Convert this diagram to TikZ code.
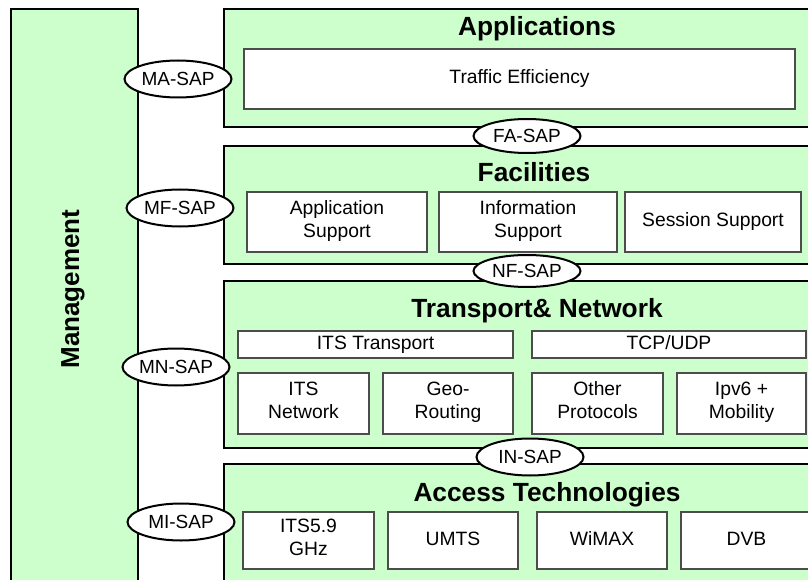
\documentclass[tikz,border=0pt]{standalone}
\usepackage{fontspec}
\setmainfont{Liberation Sans}
\usetikzlibrary{shapes.geometric,shadows}
\definecolor{lgreen}{RGB}{204,255,204}
\tikzset{
  layer/.style={draw=black, line width=2pt, fill=lgreen, rectangle, inner sep=0pt,
    general shadow={fill=black, shadow xshift=1.2pt, shadow yshift=-1.2pt}},
  ibox/.style={draw=black!70, line width=1.2pt, fill=white, rectangle, inner sep=0pt,
    align=center, font=\fontsize{19.3}{23}\selectfont,
    execute at begin node=\strut, execute at end node=\strut,
    general shadow={fill=black!55, shadow xshift=1.2pt, shadow yshift=-1.2pt}},
  title/.style={font=\fontsize{26.3}{30}\selectfont\bfseries, anchor=base, inner sep=0pt},
  sap/.style={ellipse, draw=black, line width=2pt, fill=white, inner sep=0pt,
    minimum width=107pt, minimum height=37pt, font=\fontsize{19}{22}\selectfont}
}
\begin{document}
\begin{tikzpicture}[x=1pt,y=-1pt]
\useasboundingbox (0,0) rectangle (808,580);
\clip (0,0) rectangle (808,580);
\fill[white] (0,0) rectangle (808,580);
% layers
\node[layer, minimum width=127pt, minimum height=591pt] (mgmt) at (74.5,304.5) {};
\node[layer, minimum width=606pt, minimum height=118pt] (app) at (527,68) {};
\node[layer, minimum width=606pt, minimum height=118pt] (fac) at (527,205) {};
\node[layer, minimum width=606pt, minimum height=167pt] (tn) at (527,364.5) {};
\node[layer, minimum width=606pt, minimum height=136pt] (acc) at (527,532) {};
% titles
\node[font=\fontsize{26}{30}\selectfont\bfseries, rotate=90, inner sep=0pt] (mgmtt) at (73,289) {Management};
\node[title] (appt) at (537,36) {Applications};
\node[title] (fact) at (534,182) {Facilities};
\node[title] (tnt) at (537,317) {Transport\& Network};
\node[title] (acct) at (547,501) {Access Technologies};
% inner boxes
\node[ibox, minimum width=551pt, minimum height=60pt] (te) at (519.5,79) {Traffic Efficiency};
\node[ibox, minimum width=180pt, minimum height=60pt] (as) at (337,222) {Application\\Support};
\node[ibox, minimum width=178pt, minimum height=60pt] (is) at (528,222) {Information\\Support};
\node[ibox, minimum width=176pt, minimum height=60pt] (ss) at (713,222) {Session Support};
\node[ibox, minimum width=275pt, minimum height=27pt] (itst) at (375.5,344.5) {ITS Transport};
\node[ibox, minimum width=274pt, minimum height=27pt] (tcp) at (669,344.5) {TCP/UDP};
\node[ibox, minimum width=131pt, minimum height=61pt] (itsn) at (303.5,403.5) {ITS\\Network};
\node[ibox, minimum width=130pt, minimum height=61pt] (geo) at (448,403.5) {Geo-\\Routing};
\node[ibox, minimum width=131pt, minimum height=61pt] (oth) at (597.5,403.5) {Other\\Protocols};
\node[ibox, minimum width=129pt, minimum height=61pt] (ipv) at (741.5,403.5) {Ipv6 +\\Mobility};
\node[ibox, minimum width=131pt, minimum height=57pt] (its59) at (308.5,540.5) {ITS5.9\\GHz};
\node[ibox, minimum width=130pt, minimum height=57pt] (umts) at (453,540.5) {UMTS};
\node[ibox, minimum width=130pt, minimum height=57pt] (wimax) at (602,540.5) {WiMAX};
\node[ibox, minimum width=131pt, minimum height=57pt] (dvb) at (746.5,540.5) {DVB};
% SAPs
\node[sap] (masap) at (178,79) {MA-SAP};
\node[sap] (mfsap) at (180,208) {MF-SAP};
\node[sap] (mnsap) at (176,367) {MN-SAP};
\node[sap] (misap) at (181,522) {MI-SAP};
\node[sap, minimum height=34pt] (fasap) at (527,136) {FA-SAP};
\node[sap, minimum height=32pt] (nfsap) at (527,271) {NF-SAP};
\node[sap] (insap) at (530,457) {IN-SAP};
\end{tikzpicture}
\end{document}
